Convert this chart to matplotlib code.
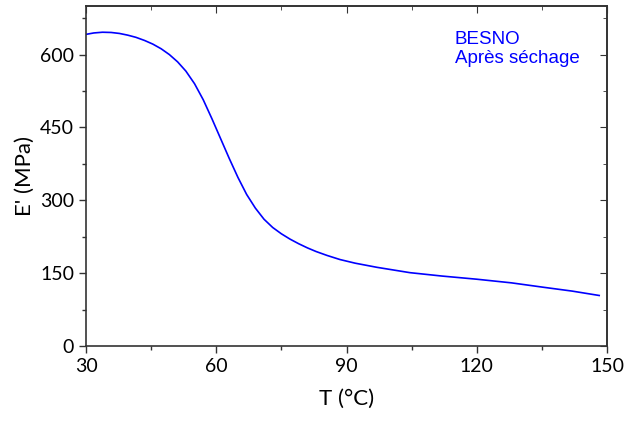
import matplotlib
matplotlib.use("Agg")
import matplotlib.pyplot as plt
from matplotlib.ticker import MultipleLocator

T = [30, 31.8, 33.8, 35.8, 37.7, 39.6, 41.5, 43.5, 45.4, 47.3, 49.2, 51.1, 53.0, 55.0, 57.0,
     59.0, 61.0, 63.0, 65.0, 67.0, 69.0, 71.0, 73.0, 75.0, 77.0, 79.0, 81.0, 83.0,
     85.5, 88.5, 92, 97, 104.6, 112, 120, 128, 135.3, 142, 148.2]
E = [641.6, 644.5, 646, 645.5, 643.5, 640, 635.5, 629, 621.5, 612, 600, 585, 566, 540, 507,
     468, 427, 386, 347, 312, 284, 261, 244, 231, 220, 210.5, 202, 194.5,
     186.5, 178, 170.5, 162, 151, 144, 137.5, 130, 121, 113, 104]

xticks = [30, 60, 90, 120, 150]
yticks = [0, 150, 300, 450, 600]

plt.rcParams['font.family'] = ['Lato', 'DejaVu Sans']

fig = plt.figure(figsize=(6.27, 4.23), dpi=100)
ax = fig.add_axes([86/627, 1-346/423, (607-86)/627, (346-6)/423])

ax.plot(T, E, color='#0000ff', lw=1.2)

ax.set_xlim(30, 150)
ax.set_ylim(0, 700)
ax.set_xticks(xticks)
ax.set_yticks(yticks)
ax.xaxis.set_minor_locator(MultipleLocator(15))
ax.yaxis.set_minor_locator(MultipleLocator(75))
ax.tick_params(which='both', direction='out', top=False, right=False, labelsize=14, width=1.0, color='#333333')
ax.tick_params(which='major', length=5)
ax.tick_params(which='minor', length=3)

ax2 = ax.secondary_xaxis('top')
ax2.set_xticks(xticks)
ax2.xaxis.set_minor_locator(MultipleLocator(15))
ax2.tick_params(which='both', direction='in', labeltop=False, color='#333333')
ax2.tick_params(which='major', length=5)
ax2.tick_params(which='minor', length=3)
ax3 = ax.secondary_yaxis('right')
ax3.set_yticks(yticks)
ax3.yaxis.set_minor_locator(MultipleLocator(75))
ax3.tick_params(which='both', direction='in', labelright=False, color='#333333')
ax3.tick_params(which='major', length=5)
ax3.tick_params(which='minor', length=3)

for a in (ax, ax2, ax3):
    for s in a.spines.values():
        s.set_color('#333333')
        s.set_linewidth(1.2)

ax.set_xlabel('T (°C)', fontsize=16, labelpad=10)
ax.set_ylabel("E' (MPa)", fontsize=16, labelpad=4)

ax.text(0.708, 0.925, 'BESNO\nAprès séchage', transform=ax.transAxes, color='#0000ff',
        fontsize=13.5, family=['Liberation Sans'], va='top', ha='left', linespacing=1.15)

fig.savefig('out.png', dpi=100)
